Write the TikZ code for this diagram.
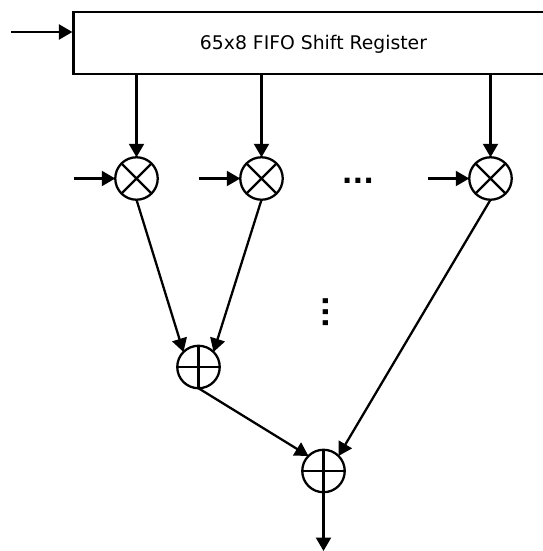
\documentclass[tikz,border=0pt]{standalone}
\usepackage{fontspec}
\setmainfont{DejaVu Sans}
\usetikzlibrary{arrows.meta}
\tikzset{
    regbox/.style={rectangle,draw,line width=1.3pt,minimum width=9.6cm,minimum height=1.24cm,inner sep=0pt},
    reglabel/.style={font=\fontsize{10.7}{12}\selectfont,inner sep=0pt},
    opnode/.style={circle,draw,line width=1.3pt,minimum size=0.85cm,inner sep=0pt,outer sep=0pt},
    dotlabel/.style={font=\fontsize{16}{16}\selectfont\bfseries,inner sep=0pt},
    directed/.style={line width=1.3pt,arrows={-Triangle[length=0.27cm,width=0.3cm]}},
    stroke/.style={line width=1.3pt},
    }

\begin{document}
\begin{tikzpicture}[x=0.02cm,y=-0.02cm]
	\useasboundingbox (0,0) rectangle (542,551);
	\node[regbox] (reg) at (313.5,43) {};
	\node[reglabel] (regtext) at (313.5,44.5) {65x8 FIFO Shift Register};
	\coordinate (in) at (11,32);

	\node[opnode] (m1) at (136.5,178.5) {};
	\node[opnode] (m2) at (261.5,178.5) {};
	\node[opnode] (m3) at (490.5,178.5) {};

	\coordinate (c1) at (73.5,178.5);
	\coordinate (c2) at (198.5,178.5);
	\coordinate (c3) at (428,178.5);

	\node[opnode] (a1) at (198.5,367) {};
	\node[opnode] (a2) at (323.5,471) {};
	\coordinate (out) at (323.5,551);

	\node[dotlabel] (hdots) at (358,181) {...};
	\node[dotlabel,rotate=90] (vdots) at (326,312) {...};

	% crosses and plus signs
	\draw[stroke] (m1.north west) -- (m1.south east) (m1.north east) -- (m1.south west);
	\draw[stroke] (m2.north west) -- (m2.south east) (m2.north east) -- (m2.south west);
	\draw[stroke] (m3.north west) -- (m3.south east) (m3.north east) -- (m3.south west);
	\draw[stroke] (a1.north) -- (a1.south) (a1.west) -- (a1.east);
	\draw[stroke] (a2.north) -- (a2.south) (a2.west) -- (a2.east);

	\draw[directed] (in) to (reg.west |- in);
	\draw[directed] (reg.south -| m1) to (m1);
	\draw[directed] (reg.south -| m2) to (m2);
	\draw[directed] (reg.south -| m3) to (m3);

	\draw[directed] (c1) to (m1);
	\draw[directed] (c2) to (m2);
	\draw[directed] (c3) to (m3);

	\draw[directed] (m1.south) to (a1.north west);
	\draw[directed] (m2.south) to (a1.north east);
	\draw[directed] (a1.south) to (a2.north west);
	\draw[directed] (m3.south) to (a2.north east);
	\draw[directed] (a2.south) to (out);
\end{tikzpicture}
\end{document}
